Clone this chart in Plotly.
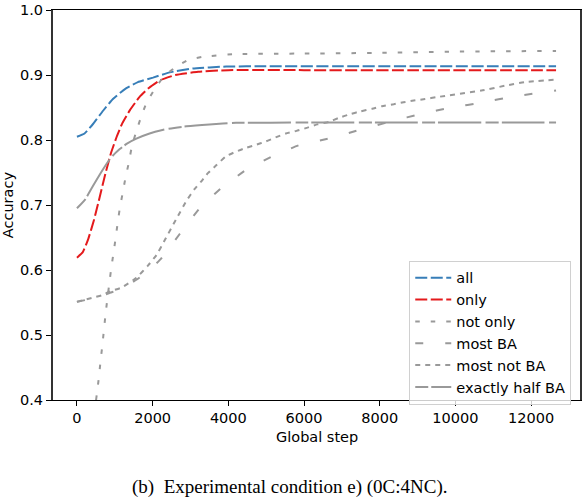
import plotly.graph_objects as go

# values
all_x = [0, 200, 430, 690, 950, 1260, 1610, 2010, 2450, 3060, 3940, 5000, 7000, 9000, 11000, 12660]
all_y = [0.805, 0.810, 0.825, 0.845, 0.863, 0.878, 0.889, 0.896, 0.904, 0.910, 0.913,
         0.9135, 0.9135, 0.9135, 0.9135, 0.9135]

only_x = [0, 150, 300, 450, 600, 750, 900, 1050, 1200, 1400, 1650, 1900, 2200, 2600, 3200,
          4000, 6000, 9000, 12660]
only_y = [0.619, 0.627, 0.648, 0.677, 0.712, 0.748, 0.780, 0.805, 0.826, 0.846, 0.866, 0.880,
          0.892, 0.900, 0.905, 0.9075, 0.9075, 0.9075, 0.9075]

not_only_x = [505, 580, 620, 670, 710, 750, 800, 850, 900, 960, 1020, 1070, 1130, 1200, 1280,
              1370, 1440, 1550, 1680, 1830, 2030, 2270, 2580, 2930, 3330, 4110, 6000, 8000,
              10000, 12660]
not_only_y = [0.400, 0.435, 0.458, 0.484, 0.506, 0.529, 0.554, 0.577, 0.600, 0.624, 0.648,
              0.670, 0.694, 0.716, 0.741, 0.765, 0.787, 0.810, 0.833, 0.856, 0.876, 0.896,
              0.911, 0.923, 0.928, 0.932, 0.933, 0.934, 0.936, 0.937]

most_ba_x = [0, 390, 650, 870, 1180, 1570, 1880, 2230, 2710, 3230, 3810, 4470, 5170, 5870,
             6750, 7540, 8330, 9110, 9900, 10740, 11540, 12660]
most_ba_y = [0.551, 0.556, 0.560, 0.565, 0.571, 0.585, 0.598, 0.618, 0.655, 0.694, 0.726,
             0.754, 0.775, 0.792, 0.8035, 0.817, 0.829, 0.8405, 0.850, 0.858, 0.867, 0.876]

most_not_ba_x = [0, 390, 650, 870, 1180, 1570, 1880, 2100, 2340, 2620, 2890, 3100, 3280, 3460,
                 3680, 3940, 4200, 4470, 4700, 5000, 5250, 5520, 5800, 6090, 6350, 6660, 6920,
                 7230, 7490, 7800, 8060, 8370, 8630, 8940, 9200, 9510, 10690, 11310, 11830,
                 12660]
most_not_ba_y = [0.551, 0.557, 0.561, 0.567, 0.573, 0.588, 0.607, 0.623, 0.648, 0.678, 0.706,
                 0.724, 0.736, 0.749, 0.761, 0.775, 0.782, 0.788, 0.792, 0.798, 0.804, 0.810,
                 0.814, 0.819, 0.824, 0.828, 0.834, 0.840, 0.844, 0.848, 0.852, 0.855, 0.858,
                 0.861, 0.863, 0.866, 0.876, 0.8835, 0.889, 0.893]

half_ba_x = [0, 210, 430, 690, 900, 1130, 1310, 1570, 1920, 2360, 2890, 3500, 4200, 6000,
             9000, 12660]
half_ba_y = [0.695, 0.708, 0.730, 0.755, 0.773, 0.786, 0.794, 0.802, 0.810, 0.8167, 0.821,
             0.824, 0.8264, 0.8268, 0.8268, 0.8268]

x_ticks = [0, 2000, 4000, 6000, 8000, 10000, 12000]
y_ticks = [0.4, 0.5, 0.6, 0.7, 0.8, 0.9, 1.0]

series = [
    ('all', all_x, all_y, '#377eb8', '12px,3.5px'),
    ('only', only_x, only_y, '#e41a1c', '12px,3.5px'),
    ('not only', not_only_x, not_only_y, '#999999', '4.5px,11px'),
    ('most BA', most_ba_x, most_ba_y, '#999999', '8px,22px'),
    ('most not BA', most_not_ba_x, most_not_ba_y, '#999999', '5px,5px'),
    ('exactly half BA', half_ba_x, half_ba_y, '#999999', '13px,3px,43px,4.5px'),
]

font = dict(family='DejaVu Sans', size=14.5, color='black')

fig = go.Figure()
for name, xs, ys, color, dash in series:
    fig.add_trace(go.Scatter(x=xs, y=ys, name=name, mode='lines',
                             line=dict(color=color, width=2, dash=dash,
                                       shape='spline', smoothing=0.4)))

fig.update_layout(
    width=584, height=502,
    margin=dict(l=53, r=2, t=5, b=102),
    paper_bgcolor='white', plot_bgcolor='white',
    font=font,
    showlegend=True,
    legend=dict(x=0.676, y=0.357, xanchor='left', yanchor='top', itemwidth=36,
                bgcolor='rgba(255,255,255,0.8)', bordercolor='#d0d0d0', borderwidth=1,
                font=font, tracegroupgap=0),
)
fig.update_xaxes(range=[-633, 13293], tickvals=x_ticks, tickformat='d', ticks='outside',
                 ticklen=5, tickcolor='black', showgrid=False, zeroline=False,
                 showline=True, linecolor='black', linewidth=1, mirror=True,
                 tickfont=font, ticklabeloverflow='allow')
fig.update_yaxes(range=[0.4, 1.0], tickvals=y_ticks, tickformat='.1f', ticks='outside',
                 ticklen=5, tickcolor='black', showgrid=False, zeroline=False,
                 showline=True, linecolor='#333333', linewidth=2, mirror=True,
                 tickfont=font, ticklabeloverflow='allow')

fig.add_annotation(text='Global step', xref='paper', yref='paper', x=0.5, y=-0.096,
                   xanchor='center', yanchor='middle', showarrow=False, font=font)
fig.add_annotation(text='Accuracy', xref='paper', yref='paper', x=-0.085, y=0.5,
                   xanchor='center', yanchor='middle', textangle=-90, showarrow=False,
                   font=font)
fig.add_annotation(text='(b)\u00a0\u00a0Experimental condition e) (0C:4NC).',
                   xref='paper', yref='paper', x=0.449, y=-0.223,
                   xanchor='center', yanchor='middle', showarrow=False,
                   font=dict(family='Liberation Serif', size=19, color='black'))

# the page body has a default 8px margin; drop it so the figure sits at the corner
fig.write_html('out.html', config={'displayModeBar': False},
               post_script="document.body.style.margin='0';")
